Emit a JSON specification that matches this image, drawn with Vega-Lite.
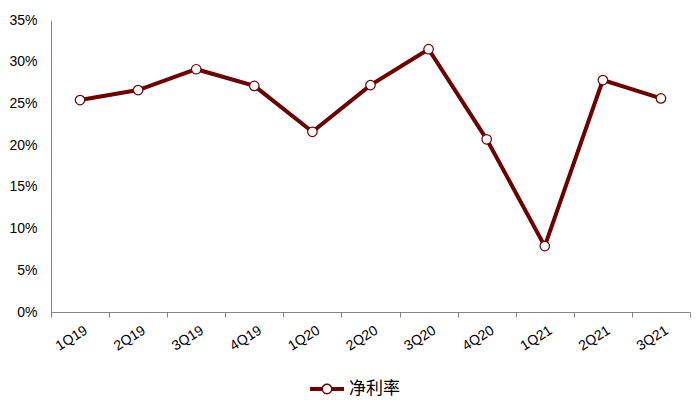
{
  "$schema": "https://vega.github.io/schema/vega-lite/v6.json",
  "width": 639,
  "height": 292,
  "autosize": {"type": "none"},
  "padding": {"left": 51, "top": 20, "right": 10, "bottom": 96},
  "background": "white",
  "config": {
    "view": {"stroke": null},
    "font": "Liberation Sans"
  },
  "data": {
    "values": [
      {"q": "1Q19", "v": 0.254, "s": "净利率"},
      {"q": "2Q19", "v": 0.266, "s": "净利率"},
      {"q": "3Q19", "v": 0.291, "s": "净利率"},
      {"q": "4Q19", "v": 0.271, "s": "净利率"},
      {"q": "1Q20", "v": 0.216, "s": "净利率"},
      {"q": "2Q20", "v": 0.272, "s": "净利率"},
      {"q": "3Q20", "v": 0.315, "s": "净利率"},
      {"q": "4Q20", "v": 0.207, "s": "净利率"},
      {"q": "1Q21", "v": 0.079, "s": "净利率"},
      {"q": "2Q21", "v": 0.278, "s": "净利率"},
      {"q": "3Q21", "v": 0.256, "s": "净利率"}
    ]
  },
  "encoding": {
    "x": {
      "field": "q", "type": "nominal", "sort": null, "title": null,
      "scale": {"paddingInner": 0, "paddingOuter": 0},
      "axis": {
        "labelAngle": -32, "labelAlign": "right", "labelBaseline": "top",
        "labelFontSize": 14, "labelColor": "#000000", "labelPadding": 6,
        "labelOffset": 2,
        "domainColor": "#868686", "tickColor": "#868686", "tickSize": 5,
        "tickBand": "extent", "grid": false
      }
    },
    "y": {
      "field": "v", "type": "quantitative", "title": null,
      "scale": {"domain": [0, 0.35], "nice": false},
      "axis": {
        "values": [0, 0.05, 0.1, 0.15, 0.2, 0.25, 0.3, 0.35],
        "format": ".0%", "labelFontSize": 14, "labelColor": "#000000",
        "ticks": false, "labelPadding": 14, "grid": false,
        "domainColor": "#868686"
      }
    }
  },
  "layer": [
    {
      "mark": {"type": "line", "strokeWidth": 4},
      "encoding": {
        "color": {
          "field": "s", "type": "nominal", "title": null,
          "scale": {"range": ["#6e0000"]},
          "legend": {
            "orient": "none", "legendX": 259, "legendY": 352,
            "direction": "horizontal",
            "symbolType": "M-1,-0.12L-0.28,-0.12L-0.28,0.12L-1,0.12Z M0.28,-0.12L1,-0.12L1,0.12L0.28,0.12Z M0.32,0A0.32,0.32 0 1,1 -0.32,0A0.32,0.32 0 1,1 0.32,0Z M0.24,0A0.24,0.24 0 1,0 -0.24,0A0.24,0.24 0 1,0 0.24,0Z",
            "symbolSize": 1156,
            "labelFont": "Noto Sans CJK SC", "labelFontSize": 17, "labelColor": "#000000",
            "labelOffset": 5,
            "encode": {"symbols": {"update": {"fill": {"value": "#6e0000"}, "stroke": {"value": "transparent"}, "strokeWidth": {"value": 0}, "opacity": {"value": 1}}}}
          }
        }
      }
    },
    {
      "mark": {"type": "point", "filled": true, "fill": "white", "stroke": "#6e0000", "strokeWidth": 1.2, "size": 90, "opacity": 1}
    }
  ]
}
